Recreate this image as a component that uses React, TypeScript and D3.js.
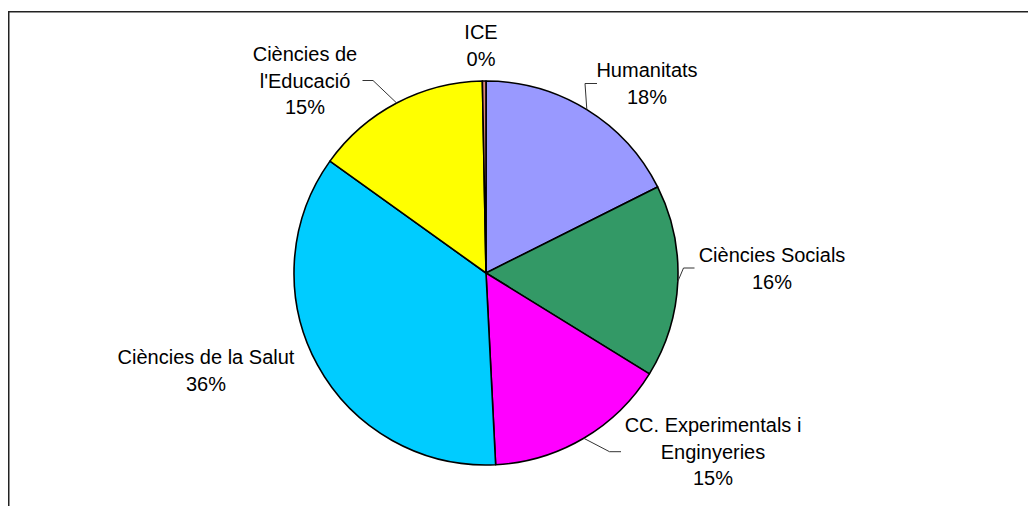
import React from "react";
import * as d3 from "d3";

// Faculty share of the total (%), clockwise from 12 o'clock
const categories = [
  "Humanitats",
  "Ciències Socials",
  "CC. Experimentals i Enginyeries",
  "Ciències de la Salut",
  "Ciències de l'Educació",
  "ICE",
];
const values = [17.6, 16.2, 15.4, 35.7, 14.8, 0.3];
const colors = ["#9999FF", "#339966", "#FF00FF", "#00CCFF", "#FFFF00", "#E08878"];

// label text split into lines (last line = percentage, added below)
const labelLines = [
  ["Humanitats"],
  ["Ciències Socials"],
  ["CC. Experimentals i", "Enginyeries"],
  ["Ciències de la Salut"],
  ["Ciències de", "l'Educació"],
  ["ICE"],
];

const W = 1028;
const H = 506;
const cx = 486;
const cy = 273;
const R = 192;
const fontSize = 20;
const lineH = 26.5;

// label block layout: x center, y of first line center, leader (elbow x, end x, y) or null
const labelLayout = [
  { x: 647, y: 70, leader: [585, 597, 83.5] },
  { x: 772, y: 255, leader: [683.5, 694.5, 268] },
  { x: 713, y: 425, leader: [609.5, 621, 451.7] },
  { x: 206, y: 357, leader: null },
  { x: 305, y: 54, leader: [373, 362.5, 80.5] },
  { x: 481, y: 32, leader: null },
];

export default function App() {
  const total = d3.sum(values);
  const pie = d3.pie<number>().sort(null).value((d) => d).startAngle(0).endAngle(2 * Math.PI);
  const arcs = pie(values);
  const arc = d3.arc<d3.PieArcDatum<number>>().innerRadius(0).outerRadius(R);

  return (
    <svg
      width={W}
      height={H}
      style={{ position: "absolute", left: 0, top: 0, background: "#fff" }}
      fontFamily="'Liberation Sans', Arial, sans-serif"
    >
      <path d={`M8.75,${H} V11.75 H${W}`} fill="none" stroke="#222" strokeWidth={1.5} />
      <g transform={`translate(${cx},${cy})`}>
        {arcs.map((a, i) => (
          <path key={i} d={arc(a) || ""} fill={colors[i]} stroke="#000" strokeWidth={1.6} strokeLinejoin="round" />
        ))}
      </g>
      {arcs.map((a, i) => {
        const lay = labelLayout[i];
        if (!lay.leader) return null;
        const mid = (a.startAngle + a.endAngle) / 2;
        const px = cx + R * Math.sin(mid);
        const py = cy - R * Math.cos(mid);
        const [ex, endX, ly] = lay.leader;
        return (
          <polyline
            key={"l" + i}
            points={`${px},${py} ${ex},${ly} ${endX},${ly}`}
            fill="none"
            stroke="#333"
            strokeWidth={1}
          />
        );
      })}
      {categories.map((c, i) => {
        const lay = labelLayout[i];
        const lines = [...labelLines[i], `${Math.round((values[i] / total) * 100)}%`];
        return (
          <text key={"t" + i} x={lay.x} y={lay.y} fontSize={fontSize} textAnchor="middle" fill="#000">
            {lines.map((ln, j) => (
              <tspan key={j} x={lay.x} y={lay.y + j * lineH} dy="0.35em">
                {ln}
              </tspan>
            ))}
          </text>
        );
      })}
    </svg>
  );
}
